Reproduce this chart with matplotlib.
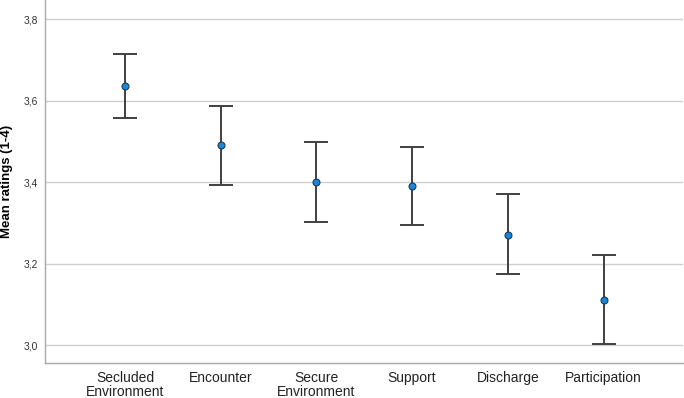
import matplotlib.pyplot as plt
from matplotlib.ticker import FuncFormatter

# Categories and means with CI bounds
categories = ['Secluded\nEnvironment', 'Encounter', 'Secure\nEnvironment', 'Support', 'Discharge', 'Participation']
means = [3.635, 3.490, 3.400, 3.390, 3.271, 3.111]
upper = [3.715, 3.587, 3.498, 3.485, 3.370, 3.220]
lower = [3.557, 3.393, 3.302, 3.294, 3.174, 3.003]
y_ticks = [3.0, 3.2, 3.4, 3.6, 3.8]

plt.rcParams['font.family'] = ['Liberation Sans', 'DejaVu Sans']

fig = plt.figure(figsize=(6.84, 3.98), dpi=100)
ax = fig.add_axes([45 / 684, 35 / 398, 638 / 684, 363 / 398])

x = list(range(len(categories)))
yerr = [[m - l for m, l in zip(means, lower)], [u - m for m, u in zip(means, upper)]]

ax.errorbar(x, means, yerr=yerr, fmt='none', ecolor='#404040', elinewidth=1.4,
            capsize=8.5, capthick=1.4, zorder=3)
ax.plot(x, means, 'o', markersize=5, markerfacecolor='#1a86d8',
        markeredgecolor='#1d3a52', markeredgewidth=0.8, zorder=4)

ax.set_xlim(-0.835, 5.83)
ax.set_ylim(2.956, 3.847)
ax.set_yticks(y_ticks)
ax.yaxis.set_major_formatter(FuncFormatter(lambda v, p: f'{v:.1f}'.replace('.', ',')))
ax.set_xticks(x)
ax.set_xticklabels(categories, fontsize=10, color='#222222', linespacing=0.95)

ax.grid(axis='y', color='#cfcfcf', linewidth=1.0, zorder=0)
ax.set_axisbelow(True)
ax.tick_params(axis='y', length=0, labelsize=7.4, labelcolor='#333333', pad=5)
ax.tick_params(axis='x', length=0, pad=6)

for side in ['top', 'right']:
    ax.spines[side].set_visible(False)
for side in ['left', 'bottom']:
    ax.spines[side].set_color('#a8a8a8')
    ax.spines[side].set_linewidth(1.0)

ax.set_ylabel('Mean ratings (1-4)', fontsize=9.5, fontweight='bold', labelpad=8)

fig.savefig('out.png', dpi=100)
